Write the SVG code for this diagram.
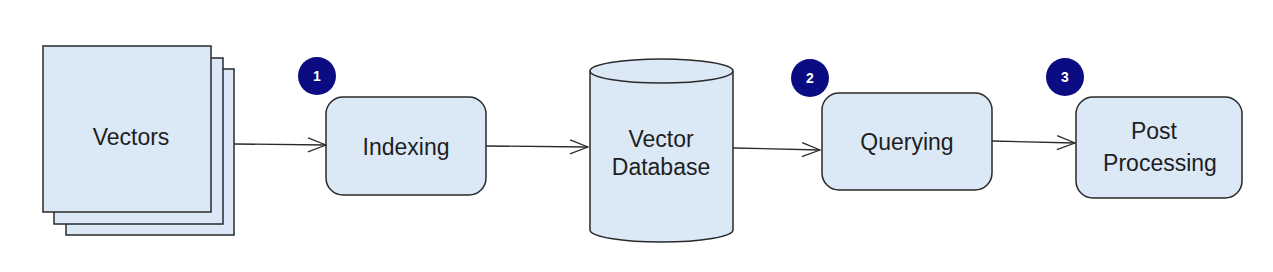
<svg xmlns="http://www.w3.org/2000/svg" width="1273" height="272" viewBox="0 0 1273 272">
<defs>
<style>
.box{fill:#dbe8f6;stroke:#2a2a2a;stroke-width:1.5}
.lbl{font-family:"Liberation Sans",Arial,sans-serif;font-size:23px;fill:#1e1e1e;text-anchor:middle}
.badge{fill:#0b0b82}
.num{font-family:"Liberation Sans",Arial,sans-serif;font-size:14px;font-weight:bold;fill:#ffffff;text-anchor:middle}
.edge{fill:none;stroke:#2a2a2a;stroke-width:1.3}
</style>
<marker id="arr" viewBox="0 0 20 20" refX="19" refY="10" markerWidth="20" markerHeight="20" markerUnits="userSpaceOnUse" orient="auto">
<path d="M1,3 L19,10 L1,17" fill="none" stroke="#2a2a2a" stroke-width="1.3"/>
</marker>
</defs>
<rect width="1273" height="272" fill="#ffffff"/>
<g id="vectors">
<rect class="box" x="66" y="69" width="168" height="166"/>
<rect class="box" x="54" y="58" width="169" height="166"/>
<rect class="box" x="43" y="46" width="168" height="166"/>
<text class="lbl" x="131" y="145">Vectors</text>
</g>
<g id="badge1">
<circle class="badge" cx="317" cy="76" r="19"/>
<text class="num" x="317" y="81">1</text>
</g>
<g id="indexing">
<rect class="box" x="326" y="97" width="160" height="98" rx="17"/>
<text class="lbl" x="406" y="155">Indexing</text>
</g>
<g id="vectordb">
<path class="box" d="M590,71 L590,230 A71.5,12 0 0 0 733,230 L733,71"/>
<ellipse class="box" cx="661.5" cy="71" rx="71.5" ry="12"/>
<text class="lbl" x="661" y="147">Vector</text>
<text class="lbl" x="661" y="175">Database</text>
</g>
<g id="badge2">
<circle class="badge" cx="810" cy="78" r="19"/>
<text class="num" x="810" y="83">2</text>
</g>
<g id="querying">
<rect class="box" x="822" y="93" width="170" height="97" rx="17"/>
<text class="lbl" x="907" y="150">Querying</text>
</g>
<g id="badge3">
<circle class="badge" cx="1065" cy="77" r="19"/>
<text class="num" x="1065" y="82">3</text>
</g>
<g id="postprocessing">
<rect class="box" x="1076" y="97" width="166" height="101" rx="17"/>
<text class="lbl" x="1154" y="139">Post</text>
<text class="lbl" x="1160" y="171">Processing</text>
</g>
<g id="connectors">
<path class="edge" d="M234,144 L326,145" marker-end="url(#arr)"/>
<path class="edge" d="M486,146 L588,147" marker-end="url(#arr)"/>
<path class="edge" d="M733,148 L820,150" marker-end="url(#arr)"/>
<path class="edge" d="M992,141 L1075,143" marker-end="url(#arr)"/>
</g>
</svg>
